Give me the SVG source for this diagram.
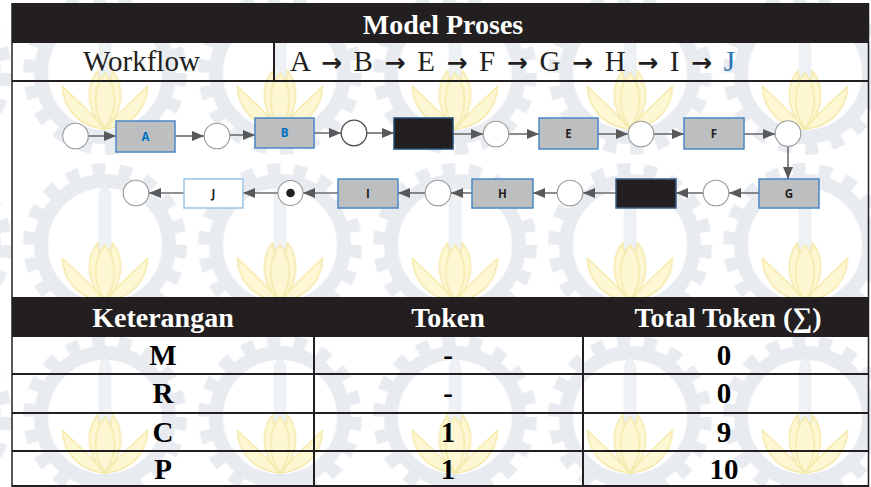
<svg xmlns="http://www.w3.org/2000/svg" width="871" height="487" viewBox="0 0 871 487">
<defs>
<style>
.tbl{font-family:"Liberation Serif","Times New Roman",serif}
.hd{font-weight:bold;fill:#ffffff;font-size:28px;text-anchor:middle}
.cell{font-weight:bold;fill:#000000;font-size:29px;text-anchor:middle}
.arr{font-family:"DejaVu Sans",sans-serif;font-weight:bold;font-size:25px}
.place{fill:#ffffff;stroke:#9a9a9a;stroke-width:1.1}
.trans{fill:#bcbec0;stroke:#4a86c5;stroke-width:1.5}
.blk{fill:#231f20;stroke:#1f4e79;stroke-width:1.5}
.lbl{font-family:"Open Sans","Liberation Sans",sans-serif;font-weight:bold;font-size:11.5px;text-anchor:middle;fill:#231f20}
.blue{fill:#0070c0}
.edge{stroke:#6d6e71;stroke-width:1.6;fill:none;marker-end:url(#ah)}
.rule{stroke:#231f20;stroke-width:2;fill:none}
</style>
<marker id="ah" markerUnits="userSpaceOnUse" markerWidth="12" markerHeight="10" refX="12" refY="5" orient="auto"><path d="M0,0 L12,5 L0,10 z" fill="#58595b"/></marker>
<pattern id="wm" patternUnits="userSpaceOnUse" x="17.5" y="-13" width="175" height="172">
<g fill="none" stroke="#e8ebf0">
<circle cx="87.5" cy="86" r="64" stroke-width="14"/>
<circle cx="87.5" cy="86" r="76" stroke-width="12" stroke-dasharray="13 13.53"/>
</g>
<path d="M82,132 L82,36 L87.5,22 L93,36 L93,132 z" fill="#eff2f5" stroke="#e4e8ed"/>
<g fill="#fdf7d3" stroke="#f5e8a8" stroke-width="1.5">
<path d="M87.5,142 C62,124 64,98 72,84 C78,104 84,122 87.5,142 z" transform="rotate(-30 87.5 142)"/>
<path d="M87.5,142 C113,124 111,98 103,84 C97,104 91,122 87.5,142 z" transform="rotate(30 87.5 142)"/>
<path d="M87.5,142 C66,122 70,96 80,84 C84,104 86,122 87.5,142 z"/>
<path d="M87.5,142 C109,122 105,96 95,84 C91,104 89,122 87.5,142 z"/>
<path d="M87.5,142 C74,122 76,100 87.5,86 C99,100 101,122 87.5,142 z"/>
</g>
</pattern>
</defs>
<rect width="871" height="487" fill="#ffffff"/>
<rect width="871" height="487" fill="url(#wm)"/>

<g id="table-title">
<rect x="12" y="3" width="857" height="40" fill="#231f20"/>
<text x="443" y="34" class="tbl hd" font-size="30">Model Proses</text>
</g>
<g id="workflow-row">
<text x="83" y="71" class="tbl" font-size="29" fill="#231f20">Workflow</text>
<text x="290" y="71" class="tbl" font-size="29" fill="#231f20" textLength="445" lengthAdjust="spacing">A <tspan class="arr">→</tspan> B <tspan class="arr">→</tspan> E <tspan class="arr">→</tspan> F <tspan class="arr">→</tspan> G <tspan class="arr">→</tspan> H <tspan class="arr">→</tspan> I <tspan class="arr">→</tspan> <tspan fill="#2e75b6">J</tspan></text>
<line x1="274" y1="43" x2="274" y2="81" class="rule"/>
<line x1="12" y1="81" x2="869" y2="81" class="rule"/>
</g>

<g id="connectors">
<line x1="88.5" y1="136" x2="116" y2="136" class="edge"/>
<line x1="175" y1="136" x2="204" y2="136" class="edge"/>
<line x1="230" y1="135" x2="255" y2="135" class="edge"/>
<line x1="314" y1="133" x2="341" y2="133" class="edge"/>
<line x1="367" y1="133" x2="394" y2="133" class="edge"/>
<line x1="453" y1="134" x2="483" y2="134" class="edge"/>
<line x1="509" y1="134" x2="539" y2="134" class="edge"/>
<line x1="598" y1="134" x2="628" y2="134" class="edge"/>
<line x1="654" y1="134" x2="684" y2="134" class="edge"/>
<line x1="744" y1="134" x2="775" y2="134" class="edge"/>
<line x1="788" y1="146.5" x2="788" y2="179" class="edge"/>
<line x1="759" y1="193" x2="729" y2="193" class="edge"/>
<line x1="703" y1="193" x2="676" y2="193" class="edge"/>
<line x1="616" y1="193" x2="583" y2="193" class="edge"/>
<line x1="557" y1="193" x2="533" y2="193" class="edge"/>
<line x1="472" y1="193" x2="451" y2="193" class="edge"/>
<line x1="425" y1="193" x2="398" y2="193" class="edge"/>
<line x1="338" y1="193" x2="303" y2="193" class="edge"/>
<line x1="278" y1="193" x2="243" y2="193" class="edge"/>
<line x1="184" y1="193" x2="149" y2="193" class="edge"/>
</g>

<g id="p1"><circle cx="75.5" cy="136" r="12.8" class="place"/></g>
<g id="tA"><rect x="116" y="121" width="59" height="31" class="trans"/><text x="145.5" y="140.5" class="lbl blue">A</text></g>
<g id="p2"><circle cx="217" cy="136" r="12.8" class="place"/></g>
<g id="tB"><rect x="255" y="118" width="59" height="30" class="trans"/><text x="284.5" y="137" class="lbl blue">B</text></g>
<g id="p3"><circle cx="354" cy="133" r="12.8" class="place" style="stroke:#4d4d4f;stroke-width:1.3"/></g>
<g id="tC"><rect x="394" y="118" width="59" height="31" class="blk"/></g>
<g id="p4"><circle cx="496" cy="134" r="12.8" class="place"/></g>
<g id="tE"><rect x="539" y="118" width="59" height="31" class="trans"/><text x="568.5" y="138" class="lbl">E</text></g>
<g id="p5"><circle cx="641" cy="134" r="12.8" class="place"/></g>
<g id="tF"><rect x="684" y="118" width="60" height="31" class="trans"/><text x="714" y="138" class="lbl">F</text></g>
<g id="p6"><circle cx="788" cy="133.5" r="12.8" class="place"/></g>
<g id="tG"><rect x="759" y="179" width="60" height="29" class="trans"/><text x="789" y="197.5" class="lbl">G</text></g>
<g id="p7"><circle cx="716" cy="193" r="12.8" class="place"/></g>
<g id="tD"><rect x="616" y="179" width="60" height="29" class="blk" style="stroke:#3b5f85"/></g>
<g id="p8"><circle cx="570" cy="193" r="12.8" class="place"/></g>
<g id="tH"><rect x="472" y="179" width="61" height="29" class="trans"/><text x="502.5" y="197.5" class="lbl">H</text></g>
<g id="p9"><circle cx="438" cy="193" r="12.8" class="place"/></g>
<g id="tI"><rect x="338" y="179" width="60" height="29" class="trans"/><text x="368" y="197.5" class="lbl">I</text></g>
<g id="p10"><circle cx="290.5" cy="193" r="12.5" class="place"/><circle cx="290.5" cy="193" r="4.3" fill="#231f20"/></g>
<g id="tJ"><rect x="184" y="179" width="59" height="29" fill="#ffffff" stroke="#9cc3e6" stroke-width="1.5"/><text x="213.5" y="197.5" class="lbl">J</text></g>
<g id="p11"><circle cx="136" cy="193" r="12.8" class="place"/></g>

<g id="token-table">
<rect x="12" y="297" width="857" height="40" fill="#231f20"/>
<text x="163" y="327" class="tbl hd">Keterangan</text>
<text x="448" y="327" class="tbl hd">Token</text>
<text x="728" y="327" class="tbl hd">Total Token (∑)</text>
<line x1="12" y1="374" x2="869" y2="374" class="rule"/>
<line x1="12" y1="413" x2="869" y2="413" class="rule"/>
<line x1="12" y1="451" x2="869" y2="451" class="rule"/>
<line x1="12" y1="486" x2="869" y2="486" class="rule"/>
<line x1="314" y1="337" x2="314" y2="487" class="rule"/>
<line x1="583" y1="337" x2="583" y2="487" class="rule"/>
<text x="163" y="365" class="tbl cell">M</text>
<text x="448" y="365" class="tbl cell">-</text>
<text x="724" y="365" class="tbl cell">0</text>
<text x="163" y="403" class="tbl cell">R</text>
<text x="448" y="403" class="tbl cell">-</text>
<text x="724" y="403" class="tbl cell">0</text>
<text x="163" y="442" class="tbl cell">C</text>
<text x="448" y="442" class="tbl cell">1</text>
<text x="724" y="442" class="tbl cell">9</text>
<text x="163" y="479" class="tbl cell">P</text>
<text x="448" y="479" class="tbl cell">1</text>
<text x="724" y="479" class="tbl cell">10</text>
</g>
<g id="borders">
<line x1="12" y1="3" x2="12" y2="487" stroke="#231f20" stroke-width="1.5"/>
<line x1="868.5" y1="3" x2="868.5" y2="487" stroke="#231f20" stroke-width="1.5"/>
</g>
</svg>
